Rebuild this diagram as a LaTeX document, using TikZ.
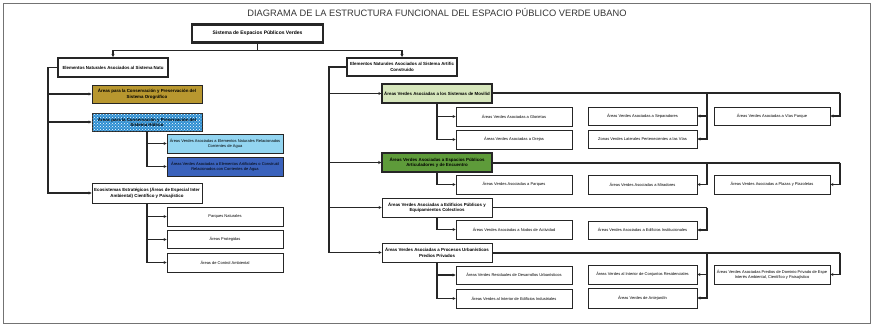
\documentclass[tikz,border=0pt]{standalone}
\usepackage{fontspec}
\setmainfont{Liberation Sans}
\usepackage{tikz}
\usetikzlibrary{patterns, arrows.meta}
\definecolor{orocol}{HTML}{B8972F}
\definecolor{hidrocol}{HTML}{2E8FD2}
\definecolor{natcol}{HTML}{93D5F1}
\definecolor{artcol}{HTML}{3A62BC}
\definecolor{movcol}{HTML}{D6E6BC}
\definecolor{espcol}{HTML}{5E9B3A}

\begin{document}
\begin{tikzpicture}[x=1pt, y=-1pt, >={Stealth[length=3pt, width=3pt]},
		leaf/.style={draw=black!85, line width=0.9pt, fill=white, minimum width=116pt,
			minimum height=19pt, inner sep=0pt, align=center, font=\fontsize{4}{5}\selectfont},
		cat/.style={leaf, minimum width=110pt, font=\fontsize{4.4}{5.6}\selectfont\bfseries},
		head/.style={cat, line width=2pt},
		arr/.style={->, line width=1.2pt, black!85},
		bar/.style={line width=2pt, black!85}]
		\useasboundingbox (0,0) rectangle (874,326);
		\draw[black!55, line width=0.8pt] (3,3) rectangle (870,323);
		\node[font=\fontsize{9.3}{11}\selectfont, black!80] (title) at (437,13) {DIAGRAMA DE LA ESTRUCTURA FUNCIONAL DEL ESPACIO PÚBLICO VERDE UBANO};

		\node[head, line width=2.5pt, minimum width=131pt, minimum height=18pt,
			font=\fontsize{5}{6}\selectfont\bfseries] (sist) at (257.5,33.5) {Sistema de Espacios Públicos Verdes};
		\node[head] (natu) at (113,67.5) {Elementos Naturales Asociados al Sistema Natu};
		\node[head, minimum height=18pt] (arti) at (402,67) {Elementos Naturales Asociados al Sistema Artific\\Construido};

		\draw[arr] (sist.south) -- ++(0,7) -| (natu.north);
		\draw[arr] (sist.south) -- ++(0,7) -| (arti.north);

		\node[cat, fill=orocol, minimum height=18pt] (oro) at (147,94) {Áreas para la Conservación y Preservación del\\Sistema Orográfico};
		\node[cat, fill=hidrocol, minimum height=18pt, postaction={pattern=crosshatch dots, pattern color=white}] (hidr) at (147,122) {Áreas para la Conservación y Preservación del\\Sistema Hídrico};
		\node[leaf, fill=natcol] (cnat) at (225,143.5) {Áreas Verdes Asociadas a Elementos Naturales Relacionados\\Corrientes de Agua};
		\node[leaf, fill=artcol] (cart) at (225,166.5) {Áreas Verdes Asociadas a Elementos Artificiales o Construid\\Relacionados con Corrientes de Agua};
		\node[cat, minimum height=20pt] (eco) at (147,193) {Ecosistemas Estratégicos (Áreas de Especial Inter\\Ambiental) Científico y Paisajístico};
		\node[leaf] (parq) at (225,216.5) {Parques Naturales};
		\node[leaf, minimum height=18pt] (prot) at (225,239.5) {Áreas Protegidas};
		\node[leaf] (ctrl) at (225,262.5) {Áreas de Control Ambiental};

		\draw[arr] (natu.west) ++(-9,0) |- (oro.west);
		\draw[arr] (natu.west) ++(-9,0) |- (hidr.west);
		\draw[arr] (natu.west) -- ++(-9,0) |- (eco.west);
		\draw[arr] (hidr.south) |- (cnat.west);
		\draw[arr] (hidr.south) |- (cart.west);
		\draw[arr] (eco.south) |- (parq.west);
		\draw[arr] (eco.south) |- (prot.west);
		\draw[arr] (eco.south) |- (ctrl.west);

		\node[cat, fill=movcol, line width=1.2pt] (movi) at (437,93.5) {Áreas Verdes Asociadas a los Sistemas de Movilid};
		\node[leaf] (glor) at (514,116.5) {Áreas Verdes Asociadas a Glorietas};
		\node[leaf] (orej) at (514,139.5) {Áreas Verdes Asociadas a Orejas};
		\node[leaf, minimum width=109pt, minimum height=18pt] (sepa) at (642.5,116) {Áreas Verdes Asociadas a Separadores};
		\node[leaf, minimum width=109pt, minimum height=18pt] (late) at (642.5,139) {Zonas Verdes Laterales Pertenecientes a las Vías};
		\node[leaf, minimum height=18pt] (vpar) at (772,116) {Áreas Verdes Asociadas a Vías Parque};

		\node[cat, fill=espcol, line width=1.5pt] (espa) at (437,162.5) {Áreas Verdes Asociadas a Espacios Públicos\\Articuladores y de Encuentro};
		\node[leaf] (pque) at (514,184.5) {Áreas Verdes Asociadas a Parques};
		\node[leaf, minimum width=109pt] (mira) at (642.5,184.5) {Áreas Verdes Asociadas a Miradores};
		\node[leaf] (plaz) at (772,184.5) {Áreas Verdes Asociadas a Plazas y Plazoletas};

		\node[cat] (edif) at (437,207.5) {Áreas Verdes Asociadas a Edificios Públicos y\\Equipamientos Colectivos};
		\node[leaf] (nodo) at (514,229.5) {Áreas Verdes Asociadas a Nodos de Actividad};
		\node[leaf, minimum width=109pt, minimum height=18pt] (inst) at (642.5,230) {Áreas Verdes Asociadas a Edificios Institucionales};

		\node[cat] (proc) at (437,252.5) {Áreas Verdes Asociadas a Procesos Urbanísticos\\Predios Privados};
		\node[leaf, minimum height=18pt] (resi) at (514,275) {Áreas Verdes Residuales de Desarrollos Urbanísticos};
		\node[leaf] (indu) at (514,298.5) {Áreas Verdes al Interior de Edificios Industriales};
		\node[leaf, minimum width=109pt] (conj) at (642.5,274.5) {Áreas Verdes al Interior de Conjuntos Residenciales};
		\node[leaf, minimum width=109pt, minimum height=20pt] (ante) at (642.5,298) {Áreas Verdes de Antejardín};
		\node[leaf] (priv) at (772,274.5) {Áreas Verdes Asociadas Predios de Dominio Privado de Espe\\Interés Ambiental, Científico y Paisajístico};

		\draw[arr] (arti.west) ++(-17,0) |- (movi.west);
		\draw[arr] (arti.west) ++(-17,0) |- (espa.west);
		\draw[arr] (arti.west) ++(-17,0) |- (edif.west);
		\draw[arr] (arti.west) -- ++(-17,0) |- (proc.west);

		\coordinate (movA) at (707,93.5);
		\coordinate (movB) at (840,93.5);
		\draw[bar] (movi.east) -- (movB);
		\draw[arr] (movA) |- (sepa.east);
		\draw[arr] (movA) |- (late.east);
		\draw[arr] (movB) |- (vpar.east);
		\draw[arr] (movi.south) |- (glor.west);
		\draw[arr] (movi.south) |- (orej.west);

		\coordinate (espA) at (707,162.5);
		\coordinate (espB) at (840,162.5);
		\draw[bar] (espa.east) -- (espB);
		\draw[arr] (espA) |- (mira.east);
		\draw[arr] (espB) |- (plaz.east);
		\draw[arr] (espa.south) |- (pque.west);

		\coordinate (ediA) at (707,207.5);
		\draw[arr, -] (edif.east) -- (ediA);
		\draw[arr] (ediA) |- (inst.east);
		\draw[arr] (edif.south) |- (nodo.west);

		\coordinate (proA) at (707,252.5);
		\coordinate (proB) at (840,252.5);
		\draw[bar] (proc.east) -- (proB);
		\draw[arr] (proA) |- (conj.east);
		\draw[arr] (proA) |- (ante.east);
		\draw[arr] (proB) |- (priv.east);
		\draw[arr] (proc.south) |- (resi.west);
		\draw[arr] (proc.south) |- (indu.west);
	\end{tikzpicture}
\end{document}
